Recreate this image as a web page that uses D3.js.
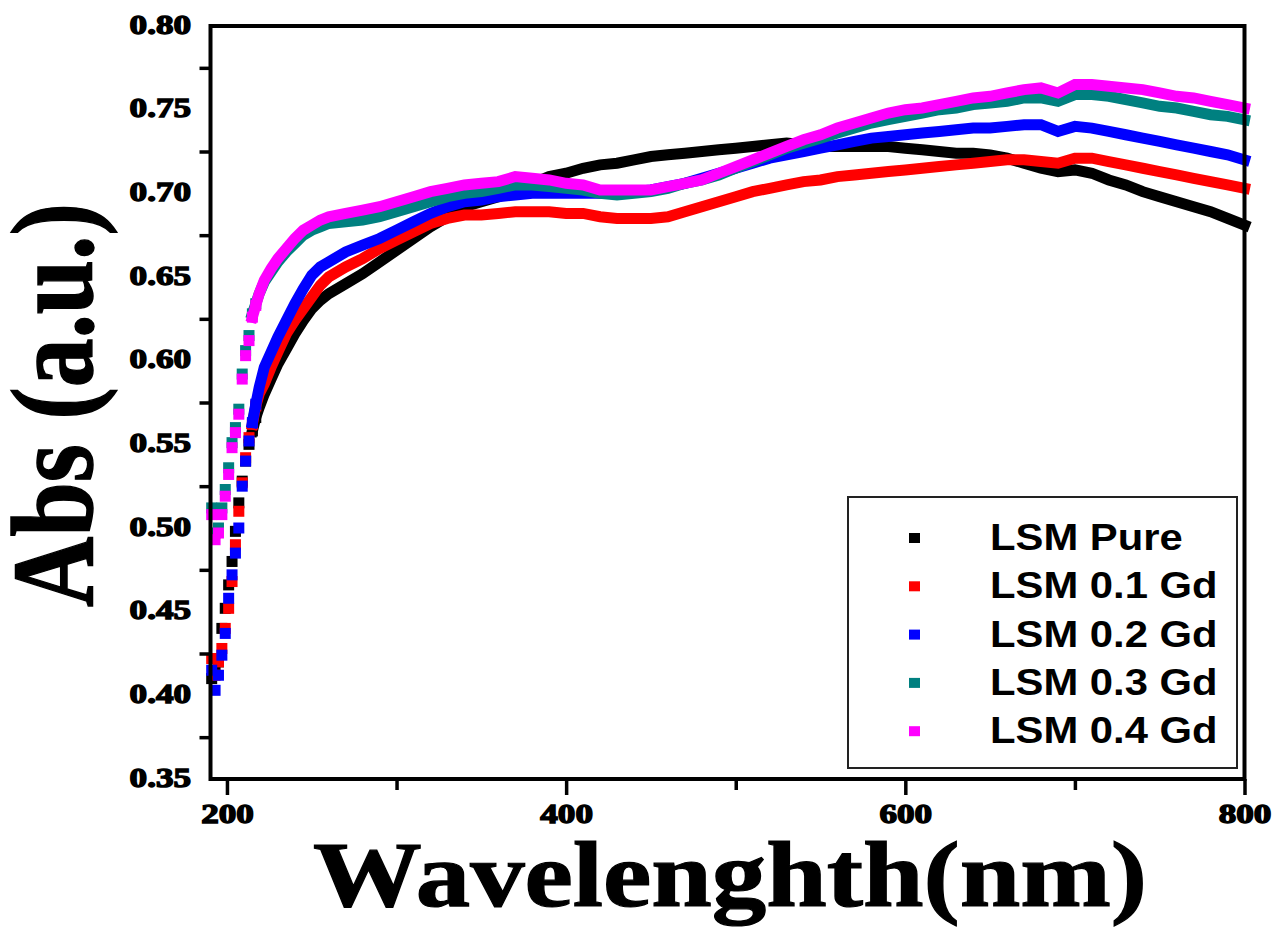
<!DOCTYPE html>
<html><head><meta charset="utf-8">
<script src="https://cdn.jsdelivr.net/npm/d3@7"></script>
<style>body{margin:0;background:#fff;overflow:hidden}</style>
</head><body>
<svg id="chart" width="1279" height="930"></svg>
<script>
const wavelength = [191,193,195,197,199,201,203,205,207,209,211,213,215,217,219,
  222,226,230,235,240,245,250,255,260,
  270,280,290,300,310,320,330,340,350,360,
  370,380,390,400,410,420,430,440,450,460,
  470,480,490,500,510,520,530,540,550,560,
  570,580,590,600,610,620,630,640,650,660,
  670,680,690,700,710,720,730,740,750,760,
  770,780,790,800];

const seriesNames = ["LSM Pure","LSM 0.1 Gd","LSM 0.2 Gd","LSM 0.3 Gd","LSM 0.4 Gd"];
const seriesColors = ["#000000","#ff0000","#0000ff","#008080","#ff00ff"];

const absPure = [0.410,0.415,0.420,0.440,0.452,0.466,0.480,0.498,0.515,0.528,0.540,0.550,0.558,0.566,0.572,
  0.580,0.589,0.598,0.607,0.616,0.624,0.631,0.636,0.640,
  0.646,0.652,0.659,0.666,0.673,0.680,0.686,0.692,0.695,0.698,
  0.702,0.706,0.710,0.712,0.715,0.717,0.718,0.720,0.722,0.723,
  0.724,0.725,0.726,0.727,0.728,0.729,0.730,0.729,0.728,0.728,
  0.728,0.728,0.728,0.727,0.726,0.725,0.724,0.724,0.723,0.721,
  0.718,0.715,0.713,0.714,0.712,0.708,0.705,0.701,0.698,0.695,
  0.692,0.689,0.685,0.681];

const abs01Gd = [0.422,0.412,0.420,0.428,0.440,0.452,0.468,0.490,0.510,0.527,0.542,0.554,0.562,0.573,0.580,
  0.586,0.596,0.605,0.616,0.624,0.631,0.638,0.645,0.650,
  0.656,0.661,0.667,0.672,0.677,0.682,0.685,0.687,0.687,0.688,
  0.689,0.689,0.689,0.688,0.688,0.686,0.685,0.685,0.685,0.686,
  0.689,0.692,0.695,0.698,0.701,0.703,0.705,0.707,0.708,0.710,
  0.711,0.712,0.713,0.714,0.715,0.716,0.717,0.718,0.719,0.720,
  0.720,0.719,0.718,0.721,0.721,0.719,0.717,0.715,0.713,0.711,
  0.709,0.707,0.705,0.703];

const abs02Gd = [0.415,0.403,0.412,0.424,0.437,0.458,0.472,0.485,0.500,0.525,0.540,0.552,0.563,0.574,0.584,
  0.596,0.605,0.614,0.624,0.634,0.643,0.651,0.656,0.659,
  0.665,0.669,0.673,0.678,0.683,0.688,0.692,0.695,0.696,0.698,
  0.699,0.700,0.700,0.700,0.700,0.700,0.700,0.701,0.702,0.704,
  0.706,0.709,0.712,0.715,0.718,0.721,0.723,0.725,0.727,0.729,
  0.731,0.733,0.734,0.735,0.736,0.737,0.738,0.739,0.739,0.740,
  0.741,0.741,0.737,0.740,0.739,0.737,0.735,0.733,0.731,0.729,
  0.727,0.725,0.723,0.720];

const abs03Gd = [0.512,0.497,0.500,0.512,0.523,0.536,0.551,0.560,0.571,0.592,0.606,0.615,0.628,0.634,0.640,
  0.647,0.653,0.659,0.665,0.670,0.675,0.678,0.680,0.682,
  0.683,0.684,0.686,0.689,0.692,0.695,0.698,0.700,0.701,0.703,
  0.705,0.705,0.704,0.703,0.702,0.700,0.699,0.700,0.701,0.703,
  0.706,0.708,0.711,0.715,0.719,0.723,0.727,0.730,0.733,0.736,
  0.739,0.742,0.744,0.746,0.748,0.750,0.751,0.753,0.754,0.755,
  0.757,0.757,0.755,0.759,0.759,0.758,0.756,0.754,0.752,0.751,
  0.749,0.747,0.746,0.744];

const abs04Gd = [0.508,0.493,0.497,0.508,0.519,0.532,0.548,0.557,0.568,0.589,0.603,0.612,0.626,0.633,0.640,
  0.648,0.655,0.661,0.667,0.673,0.678,0.681,0.684,0.686,
  0.688,0.690,0.692,0.695,0.698,0.701,0.703,0.705,0.706,0.707,
  0.710,0.709,0.708,0.706,0.705,0.702,0.702,0.702,0.702,0.704,
  0.706,0.708,0.712,0.716,0.720,0.724,0.728,0.732,0.735,0.739,
  0.742,0.745,0.748,0.750,0.751,0.753,0.755,0.757,0.758,0.760,
  0.762,0.763,0.760,0.765,0.765,0.764,0.763,0.762,0.760,0.758,
  0.757,0.755,0.753,0.751];

const seriesValues = [absPure, abs01Gd, abs02Gd, abs03Gd, abs04Gd];

const xMajorTicks = [200,400,600,800];
const xMinorTicks = [300,500,700];
const xTickLabels = ["200","400","600","800"];
const yLabelTicks = [0.35,0.40,0.45,0.50,0.55,0.60,0.65,0.70,0.75,0.80];
const yTickLabels = ["0.35","0.40","0.45","0.50","0.55","0.60","0.65","0.70","0.75","0.80"];
const yMinorTicks = [0.375,0.425,0.475,0.525,0.575,0.625,0.675,0.725,0.775];

const svg = d3.select("#chart");
svg.append("rect").attr("width",1279).attr("height",930).attr("fill","#fff");

const x = d3.scaleLinear().domain([190.3, 800]).range([210.5, 1244.5]);
const y = d3.scaleLinear().domain([0.35, 0.80]).range([779, 26]);

const SERIF = "'Liberation Serif','Times New Roman',serif";
const SANS = "'Liberation Sans',Arial,sans-serif";

// data
const lineGen = d3.line().x(d => x(d[0])).y(d => y(d[1]));
const sq = 11;
seriesValues.forEach((vals, i) => {
  const pts = wavelength.map((w, k) => [w, vals[k]]);
  const g = svg.append("g");
  g.append("path")
    .attr("d", lineGen(pts.filter(p => p[0] >= 215)))
    .attr("fill","none").attr("stroke",seriesColors[i])
    .attr("stroke-width",sq).attr("stroke-linejoin","miter").attr("stroke-linecap","square");
  g.selectAll("rect").data(pts.filter(p => p[0] <= 217)).join("rect")
    .attr("x", d => x(d[0]) - sq/2).attr("y", d => y(d[1]) - sq/2)
    .attr("width", sq).attr("height", sq).attr("fill", seriesColors[i]);
});

// x axis ticks
const xAxis = d3.axisBottom(x).tickValues(xMajorTicks.concat(xMinorTicks)).tickSize(14)
  .tickFormat(d => { const k = xMajorTicks.indexOf(d); return k >= 0 ? xTickLabels[k] : ""; });
const gx = svg.append("g").attr("transform","translate(0,779)").call(xAxis);
gx.select(".domain").remove();
gx.selectAll(".tick line").attr("stroke","#000").attr("stroke-width",3.5)
  .attr("y2", d => xMajorTicks.includes(d) ? 16 : 11);
gx.selectAll(".tick text")
  .attr("y", 44).attr("dy", null)
  .attr("transform","scale(1.3,1)")
  .attr("font-family", SERIF).attr("font-weight","bold").attr("font-size",27)
  .attr("fill","#000").attr("stroke","#000").attr("stroke-width",1.4);

// y axis minor ticks
const yAxisTicks = d3.axisLeft(y).tickValues(yMinorTicks).tickSize(11).tickFormat("");
const gy = svg.append("g").attr("transform","translate(210.5,0)").call(yAxisTicks);
gy.select(".domain").remove();
gy.selectAll(".tick line").attr("stroke","#000").attr("stroke-width",3.5);

// y labels
const yAxisLabels = d3.axisLeft(y).tickValues(yLabelTicks).tickSize(0)
  .tickFormat(d => yTickLabels[yLabelTicks.indexOf(d)]);
const gyl = svg.append("g").attr("transform","translate(210.5,0)").call(yAxisLabels);
gyl.select(".domain").remove();
gyl.selectAll(".tick text")
  .attr("x", -15).attr("y", 7).attr("dy", null)
  .attr("transform","scale(1.3,1)")
  .attr("text-anchor","end")
  .attr("font-family", SERIF).attr("font-weight","bold").attr("font-size",27)
  .attr("fill","#000").attr("stroke","#000").attr("stroke-width",1.4);

// frame
svg.append("rect")
  .attr("x", x.range()[0]).attr("y", y.range()[1])
  .attr("width", x.range()[1]-x.range()[0]).attr("height", y.range()[0]-y.range()[1])
  .attr("fill","none").attr("stroke","#000").attr("stroke-width",4);

// axis titles
svg.append("text").text("Wavelenghth(nm)")
  .attr("x", 730).attr("y", 906).attr("text-anchor","middle")
  .attr("textLength", 834).attr("lengthAdjust","spacingAndGlyphs")
  .attr("font-family", SERIF).attr("font-weight","bold").attr("font-size",93)
  .attr("fill","#000").attr("stroke","#000").attr("stroke-width",1.2);

svg.append("text").text("Abs (a.u.)")
  .attr("transform","translate(92,405) rotate(-90) scale(1,1.25)")
  .attr("text-anchor","middle")
  .attr("textLength", 404).attr("lengthAdjust","spacingAndGlyphs")
  .attr("font-family", SERIF).attr("font-weight","bold").attr("font-size",93)
  .attr("fill","#000").attr("stroke","#000").attr("stroke-width",1.2);

// legend
const lg = svg.append("g");
lg.append("rect").attr("x",848).attr("y",497).attr("width",389).attr("height",271)
  .attr("fill","#fff").attr("stroke","#222").attr("stroke-width",2);
seriesNames.forEach((name, i) => {
  const cy = 538 + i * 48.3;
  lg.append("rect").attr("x", 909).attr("y", cy - 5).attr("width", 11).attr("height", 10)
    .attr("fill", seriesColors[i]);
  lg.append("text").text(name)
    .attr("transform", `translate(990,${cy + 12}) scale(1.13,1)`)
    .attr("font-family", SANS).attr("font-weight","bold").attr("font-size",37)
    .attr("fill","#000");
});
</script>
</body></html>
